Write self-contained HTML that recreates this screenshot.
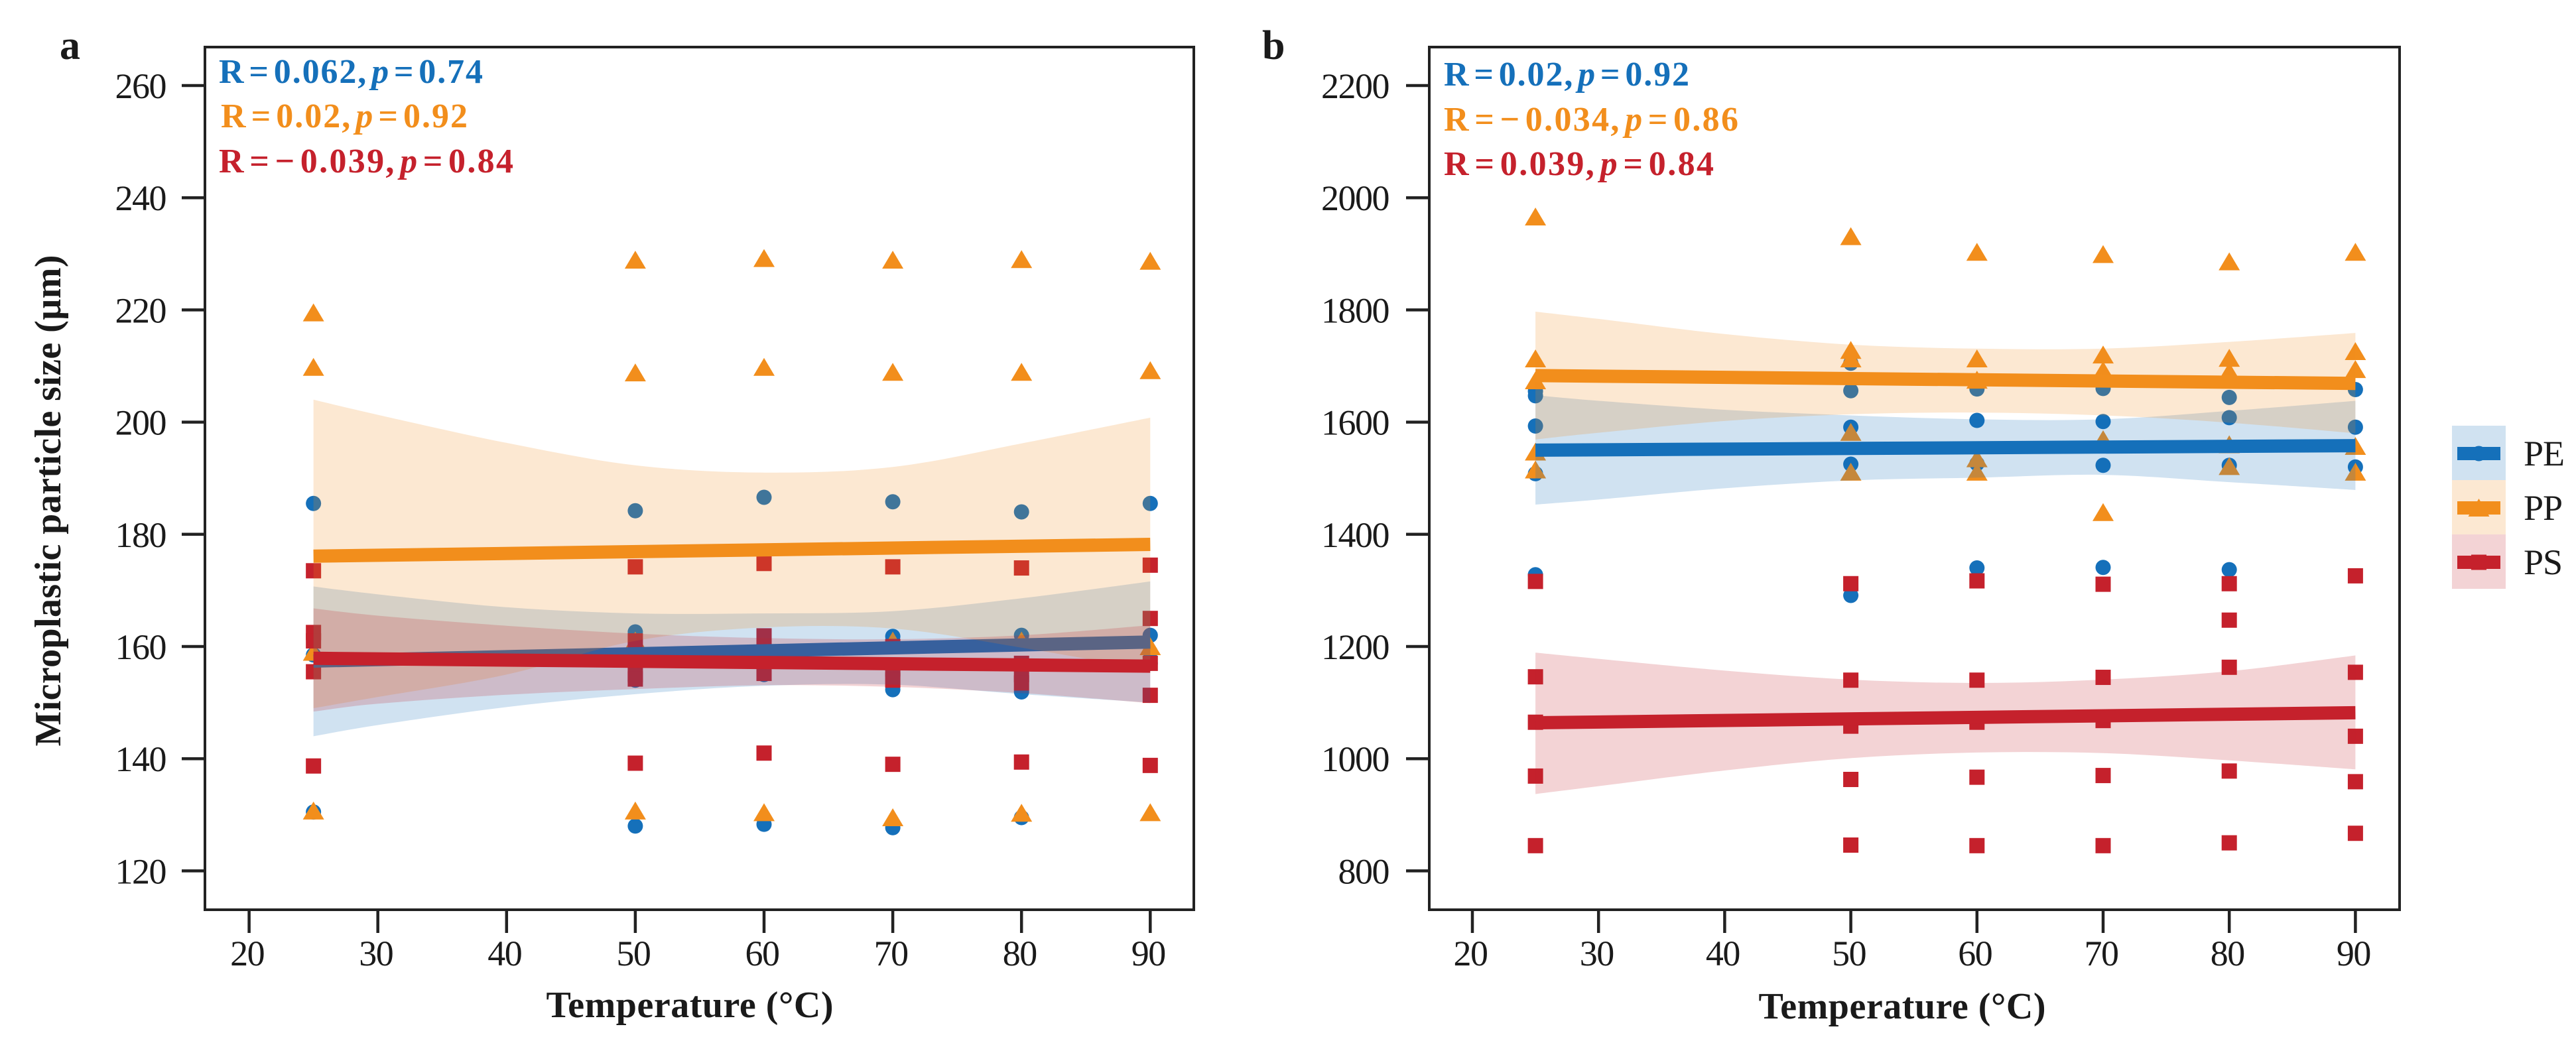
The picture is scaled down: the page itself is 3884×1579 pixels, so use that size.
<!DOCTYPE html>
<html lang="en">
<head>
<meta charset="utf-8">
<title>Microplastic particle size vs temperature</title>
<style>
html,body{margin:0;padding:0;background:#fff;width:3884px;height:1579px;overflow:hidden}
svg{display:block}
text{font-family:"Liberation Serif",serif;fill:#1a1a1a}
.b{font-weight:bold}
.t{font-size:54px;letter-spacing:-1.5px}
.ann{font-size:52px;font-weight:bold;word-spacing:-9px}
.ann tspan{font-style:italic}
</style>
</head>
<body>
<svg id="chart" xmlns="http://www.w3.org/2000/svg" width="3884" height="1579" viewBox="0 0 3884 1579">
  <rect x="0" y="0" width="3884" height="1579" fill="#ffffff"/>
  <g id="panelA"></g>
  <g id="panelB"></g>
  <g id="legend"></g>

  <text class="b" x="90" y="89" font-size="62">a</text>
  <text class="b" x="1903" y="89" font-size="62">b</text>

  <text class="b" font-size="56" text-anchor="middle" textLength="741" lengthAdjust="spacing" transform="translate(91,755) rotate(-90)">Microplastic particle size (µm)</text>
  <text class="b" font-size="56" text-anchor="middle" textLength="433" lengthAdjust="spacing" x="1040" y="1534">Temperature (°C)</text>
  <text class="b" font-size="56" text-anchor="middle" textLength="433" lengthAdjust="spacing" x="2868" y="1536">Temperature (°C)</text>

  <text class="ann" style="fill:#1570ba" x="330" y="125" textLength="398" lengthAdjust="spacing">R = 0.062, <tspan>p</tspan> = 0.74</text>
  <text class="ann" style="fill:#f28e1c" x="333" y="192" textLength="372" lengthAdjust="spacing">R = 0.02, <tspan>p</tspan> = 0.92</text>
  <text class="ann" style="fill:#c5212c" x="330" y="260" textLength="444" lengthAdjust="spacing">R = − 0.039, <tspan>p</tspan> = 0.84</text>

  <text class="ann" style="fill:#1570ba" x="2177" y="129" textLength="370" lengthAdjust="spacing">R = 0.02, <tspan>p</tspan> = 0.92</text>
  <text class="ann" style="fill:#f28e1c" x="2177" y="197" textLength="444" lengthAdjust="spacing">R = − 0.034, <tspan>p</tspan> = 0.86</text>
  <text class="ann" style="fill:#c5212c" x="2177" y="264" textLength="407" lengthAdjust="spacing">R = 0.039, <tspan>p</tspan> = 0.84</text>
</svg>

<script>
// Shared categories and tick labels
var temps = [25, 50, 60, 70, 80, 90];
var ribbonTemps = [25, 30, 40, 50, 60, 70, 80, 90];
var lineTemps = [25, 90];
var xTickLabels = [20, 30, 40, 50, 60, 70, 80, 90];
var yTickLabelsA = [120, 140, 160, 180, 200, 220, 240, 260];
var yTickLabelsB = [800, 1000, 1200, 1400, 1600, 1800, 2000, 2200];
var seriesNames = ['PE', 'PP', 'PS'];

// Panel a: scatter values per temperature
var pePointsA = [[185.5, 158.5, 130.5], [184.2, 162.6, 158, 154, 128], [186.6, 161, 155, 128.3], [185.8, 161.8, 152.3, 127.7], [184, 162, 151.9, 129.5], [185.5, 162, 159, 157]];
var ppPointsA = [[219.5, 209.8, 159, 130.7], [228.9, 208.8, 161, 130.7], [229.2, 209.8, 161, 130.4], [228.9, 208.9, 161, 129.5], [229, 208.9, 161, 130.3], [228.7, 209.2, 160, 130.4]];
var psPointsA = [[173.5, 162.5, 161, 155.5, 138.7], [174.2, 161, 155, 154.2, 139.2], [174.8, 161.9, 160, 155.2, 141], [174.2, 160, 156, 154, 139], [174, 157, 155, 153.5, 139.4], [174.5, 165, 157, 151.3, 138.8]];

// Panel a: fitted lines and confidence bands
var peLineA = [157.4, 160.8];
var ppLineA = [176.1, 178.2];
var psLineA = [157.9, 156.5];
var peUpperA = [170.7, 169.3, 167, 165.9, 165.9, 166.3, 168.6, 171.6];
var peLowerA = [144, 146, 149.2, 151.5, 153, 153.2, 151.5, 150];
var ppUpperA = [204, 201.3, 196.3, 192.3, 191, 192, 196.2, 200.8];
var ppLowerA = [149, 151, 155, 161, 163.4, 163.2, 159.8, 155.8];
var psUpperA = [166.8, 165.5, 163.7, 162.3, 161.5, 161.3, 162, 163.8];
var psLowerA = [148.4, 149.8, 151.4, 152.4, 153.1, 152.8, 151.7, 149.9];

// Panel b: scatter values per temperature
var pePointsB = [[1655, 1647, 1593, 1508, 1328], [1705, 1656, 1591, 1525, 1291], [1659, 1603, 1526, 1340], [1660, 1601, 1523, 1341], [1644, 1608, 1523, 1337], [1658, 1591, 1520]];
var ppPointsB = [[1966, 1713, 1674, 1547, 1515], [1931, 1728, 1713, 1582, 1511], [1903, 1713, 1675, 1535, 1511], [1899, 1720, 1692, 1569, 1439], [1886, 1714, 1690, 1560, 1521], [1903, 1726, 1694, 1557, 1511]];
var psPointsB = [[1316, 1146, 1065, 969, 845], [1312, 1140, 1058, 963, 846], [1317, 1140, 1065, 967, 845], [1311, 1145, 1068, 970, 845], [1312, 1247, 1163, 978, 850], [1326, 1154, 1040, 959, 867]];

// Panel b: fitted lines and confidence bands
var peLineB = [1550, 1558];
var ppLineB = [1683, 1669];
var psLineB = [1064, 1082];
var peUpperB = [1648, 1638, 1622, 1612, 1605, 1605, 1620, 1638];
var peLowerB = [1453, 1462, 1482, 1496, 1501, 1506, 1493, 1479];
var ppUpperB = [1797, 1784, 1757, 1738, 1731, 1731, 1743, 1759];
var ppLowerB = [1569, 1581, 1602, 1614, 1617, 1612, 1599, 1580];
var psUpperB = [1189, 1178, 1157, 1141, 1135, 1141, 1156, 1184];
var psLowerB = [937, 951, 979, 1001, 1011, 1010, 997, 981];

var NS = 'http://www.w3.org/2000/svg';
var colors = {PE: '#1570ba', PP: '#f28e1c', PS: '#c5212c'};
var AXIS = '#222222';

function make(parent, tag, attrs) {
  var el = document.createElementNS(NS, tag);
  for (var k in attrs) { el.setAttribute(k, attrs[k]); }
  parent.appendChild(el);
  return el;
}

function marker(parent, series, cx, cy) {
  var el;
  if (series === 'PE') {
    el = make(parent, 'circle', {cx: cx, cy: cy, r: 11.5, fill: colors.PE});
  } else if (series === 'PP') {
    el = make(parent, 'polygon', {points: (cx - 16) + ',' + (cy + 13) + ' ' + (cx + 16) + ',' + (cy + 13) + ' ' + cx + ',' + (cy - 14), fill: colors.PP});
  } else {
    el = make(parent, 'rect', {x: cx - 11.5, y: cy - 11.5, width: 23, height: 23, fill: colors.PS});
  }
  return el;
}

// Smooth curve (Catmull-Rom) through screen points, continuing an open path
function curveTo(pts) {
  var d = '';
  for (var i = 0; i < pts.length - 1; i++) {
    var p0 = pts[Math.max(i - 1, 0)], p1 = pts[i], p2 = pts[i + 1], p3 = pts[Math.min(i + 2, pts.length - 1)];
    d += ' C' + (p1[0] + (p2[0] - p0[0]) / 6) + ',' + (p1[1] + (p2[1] - p0[1]) / 6) + ' ' +
         (p2[0] - (p3[0] - p1[0]) / 6) + ',' + (p2[1] - (p3[1] - p1[1]) / 6) + ' ' + p2[0] + ',' + p2[1];
  }
  return d;
}

function drawPanel(cfg) {
  var g = cfg.group;
  function X(v) { return cfg.x0 + (v - 20) * cfg.xPerUnit; }
  function Y(v) { return cfg.yTop + (cfg.yMax - v) * cfg.yPerUnit; }

  var frame = make(g, 'rect', {x: cfg.left, y: 71, width: cfg.right - cfg.left, height: 1372 - 71, fill: 'none', stroke: AXIS, 'stroke-width': 4});
  
  

  xTickLabels.forEach(function (v) {
    var tick = make(g, 'line', {x1: X(v), x2: X(v), y1: 1372, y2: 1407, stroke: AXIS, 'stroke-width': 4.5});
    
    
    var lab = make(g, 'text', {x: X(v) - 3, y: 1456, 'text-anchor': 'middle', 'class': 't'});
    lab.textContent = String(v);
    
    
  });

  cfg.yTicks.forEach(function (v) {
    var tick = make(g, 'line', {x1: cfg.left - 35, x2: cfg.left, y1: Y(v), y2: Y(v), stroke: AXIS, 'stroke-width': 4.5});
    
    
    var lab = make(g, 'text', {x: cfg.labelRight, y: Y(v) + 19, 'text-anchor': 'end', 'class': 't'});
    lab.textContent = String(v);
    
    
  });

  seriesNames.forEach(function (s) {
    var vals = cfg.points[s];
    temps.forEach(function (t, i) {
      vals[i].forEach(function (v) {
        var m = marker(g, s, X(t), Y(v));
        
        
      });
    });
  });

  seriesNames.forEach(function (s) {
    var up = cfg.upper[s], lo = cfg.lower[s], upPts = [], loPts = [];
    ribbonTemps.forEach(function (t, i) {
      upPts.push([X(t), Y(up[i])]);
      loPts.unshift([X(t), Y(lo[i])]);
    });
    var d = 'M' + upPts[0][0] + ',' + upPts[0][1] + curveTo(upPts) +
            ' L' + loPts[0][0] + ',' + loPts[0][1] + curveTo(loPts) + ' Z';
    var band = make(g, 'path', {d: d, fill: colors[s], 'fill-opacity': 0.2});
    
    
    var ln = cfg.lines[s];
    var fit = make(g, 'line', {x1: X(lineTemps[0]), y1: Y(ln[0]), x2: X(lineTemps[1]), y2: Y(ln[1]), stroke: colors[s], 'stroke-width': 20});
    
    
  });
}

drawPanel({
  group: document.getElementById('panelA'),
  left: 309, right: 1800, labelRight: 250,
  x0: 375.6, xPerUnit: 19.41, yTop: 129, yMax: 260, yPerUnit: 8.46,
  yTicks: yTickLabelsA,
  points: {PE: pePointsA, PP: ppPointsA, PS: psPointsA},
  lines: {PE: peLineA, PP: ppLineA, PS: psLineA},
  upper: {PE: peUpperA, PP: ppUpperA, PS: psUpperA},
  lower: {PE: peLowerA, PP: ppLowerA, PS: psLowerA}
});

drawPanel({
  group: document.getElementById('panelB'),
  left: 2155, right: 3618, labelRight: 2094,
  x0: 2220, xPerUnit: 19.02, yTop: 129, yMax: 2200, yPerUnit: 0.846,
  yTicks: yTickLabelsB,
  points: {PE: pePointsB, PP: ppPointsB, PS: psPointsB},
  lines: {PE: peLineB, PP: ppLineB, PS: psLineB},
  upper: {PE: peUpperB, PP: ppUpperB, PS: psUpperB},
  lower: {PE: peLowerB, PP: ppLowerB, PS: psLowerB}
});

var legendGroup = document.getElementById('legend');
seriesNames.forEach(function (s, i) {
  var top = 642 + i * 82;
  var cy = top + 42;
  var swatch = make(legendGroup, 'rect', {x: 3697, y: top, width: 81, height: 82, fill: colors[s], 'fill-opacity': 0.2});
  
  
  var m = marker(legendGroup, s, 3737.5, cy);
  
  
  var l = make(legendGroup, 'line', {x1: 3705, x2: 3770, y1: cy, y2: cy, stroke: colors[s], 'stroke-width': 20});
  
  
  var t = make(legendGroup, 'text', {x: 3805, y: cy + 18, 'font-size': 54, 'letter-spacing': '-1'});
  t.textContent = s;
  
  
});
</script>
</body>
</html>
